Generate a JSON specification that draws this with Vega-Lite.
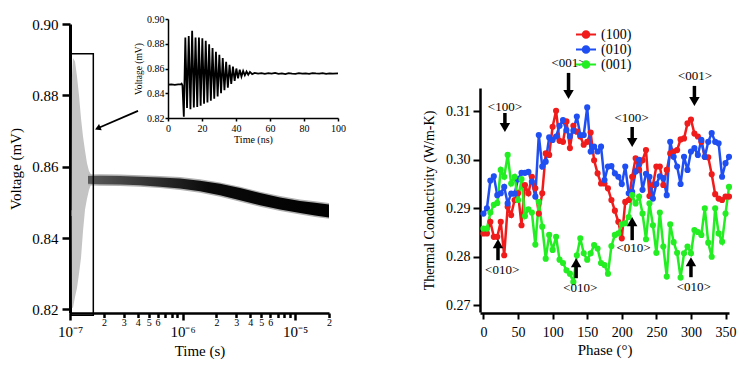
{
  "$schema": "https://vega.github.io/schema/vega-lite/v6.json",
  "autosize": "none",
  "padding": {"left": 70, "top": 24, "right": 678, "bottom": 342},
  "bounds": "flush",
  "spacing": 151,
  "config": {
    "font": "Liberation Serif",
    "view": {"stroke": null},
    "axis": {"grid": false, "labelColor": "black", "titleColor": "black", "domainColor": "black", "tickColor": "black", "titleFontWeight": "normal", "labelFont": "Liberation Serif", "titleFont": "Liberation Serif", "labelOverlap": false},
    "text": {"font": "Liberation Serif"}
  },
  "datasets": {
    "burst": [
      {"t": 1.0e-7, "hi": 0.8478, "lo": 0.8462},
      {"t": 1.03e-7, "hi": 0.8478, "lo": 0.8462},
      {"t": 1.04e-7, "hi": 0.885, "lo": 0.8205},
      {"t": 1.063e-7, "hi": 0.8905, "lo": 0.8205},
      {"t": 1.108e-7, "hi": 0.8895, "lo": 0.8235},
      {"t": 1.154e-7, "hi": 0.8853, "lo": 0.826},
      {"t": 1.202e-7, "hi": 0.880, "lo": 0.830},
      {"t": 1.253e-7, "hi": 0.8735, "lo": 0.8345},
      {"t": 1.305e-7, "hi": 0.8685, "lo": 0.842},
      {"t": 1.36e-7, "hi": 0.8645, "lo": 0.848},
      {"t": 1.416e-7, "hi": 0.861, "lo": 0.851},
      {"t": 1.475e-7, "hi": 0.8588, "lo": 0.8535},
      {"t": 1.537e-7, "hi": 0.8578, "lo": 0.855},
      {"t": 1.6e-7, "hi": 0.8575, "lo": 0.8552}
    ],
    "band": [
      {"t": 1.445e-7, "hi": 0.8574, "lo": 0.8552, "fhi": 0.8578, "flo": 0.8548},
      {"t": 1.848e-7, "hi": 0.8575, "lo": 0.8551, "fhi": 0.8579, "flo": 0.8547},
      {"t": 2.783e-7, "hi": 0.8574, "lo": 0.8550, "fhi": 0.8578, "flo": 0.8546},
      {"t": 4.19e-7, "hi": 0.8572, "lo": 0.8548, "fhi": 0.8576, "flo": 0.8544},
      {"t": 6.31e-7, "hi": 0.8570, "lo": 0.8544, "fhi": 0.8574, "flo": 0.8540},
      {"t": 9.5e-7, "hi": 0.8567, "lo": 0.8539, "fhi": 0.8571, "flo": 0.8535},
      {"t": 1.43e-6, "hi": 0.8561, "lo": 0.8531, "fhi": 0.8565, "flo": 0.8527},
      {"t": 2.154e-6, "hi": 0.8552, "lo": 0.8520, "fhi": 0.8556, "flo": 0.8516},
      {"t": 3.244e-6, "hi": 0.8540, "lo": 0.8506, "fhi": 0.8544, "flo": 0.8502},
      {"t": 4.885e-6, "hi": 0.8526, "lo": 0.8492, "fhi": 0.8530, "flo": 0.8488},
      {"t": 7.356e-6, "hi": 0.8514, "lo": 0.8480, "fhi": 0.8518, "flo": 0.8476},
      {"t": 1.108e-5, "hi": 0.8504, "lo": 0.8470, "fhi": 0.8508, "flo": 0.8466},
      {"t": 1.506e-5, "hi": 0.8499, "lo": 0.8463, "fhi": 0.8503, "flo": 0.8459},
      {"t": 2.0e-5, "hi": 0.8494, "lo": 0.8458, "fhi": 0.8498, "flo": 0.8454}
    ],
    "box": [{"t": 1.0145e-7, "t2": 1.611e-7, "v": 0.89166, "v2": 0.8184}],
    "zoomarrow": [{"t": 4.021e-7, "v": 0.87566, "t2": 1.763e-7, "v2": 0.87078}],
    "inset": [
      {"ns": 0, "v": 0.8470}, {"ns": 2, "v": 0.8472}, {"ns": 4, "v": 0.8468}, {"ns": 6, "v": 0.8471},
      {"ns": 7.5, "v": 0.8472}, {"ns": 8, "v": 0.8478}, {"ns": 8.5, "v": 0.8465}, {"ns": 9.3, "v": 0.8210},
      {"ns": 10.2, "v": 0.8850}, {"ns": 11.2, "v": 0.8280}, {"ns": 12.2, "v": 0.8862}, {"ns": 13.2, "v": 0.8270},
      {"ns": 14.2, "v": 0.8905}, {"ns": 15.2, "v": 0.8285}, {"ns": 16.2, "v": 0.8850}, {"ns": 17.2, "v": 0.8290},
      {"ns": 18.2, "v": 0.8850}, {"ns": 19.2, "v": 0.8300}, {"ns": 20.2, "v": 0.8845}, {"ns": 21.2, "v": 0.8315},
      {"ns": 22.2, "v": 0.8825}, {"ns": 23.2, "v": 0.8325}, {"ns": 24.2, "v": 0.8795}, {"ns": 25.2, "v": 0.8340},
      {"ns": 26.2, "v": 0.8765}, {"ns": 27.2, "v": 0.8355}, {"ns": 28.2, "v": 0.8735}, {"ns": 29.2, "v": 0.8375},
      {"ns": 30.2, "v": 0.8710}, {"ns": 31.2, "v": 0.8400}, {"ns": 32.2, "v": 0.8685}, {"ns": 33.2, "v": 0.8425},
      {"ns": 34.2, "v": 0.8655}, {"ns": 35.2, "v": 0.8445}, {"ns": 36.2, "v": 0.8630}, {"ns": 37.2, "v": 0.8475},
      {"ns": 38.2, "v": 0.8615}, {"ns": 39.2, "v": 0.8500}, {"ns": 40.2, "v": 0.8600}, {"ns": 41.2, "v": 0.8520},
      {"ns": 42.2, "v": 0.8590}, {"ns": 43.2, "v": 0.8535}, {"ns": 44.2, "v": 0.8580}, {"ns": 45.2, "v": 0.8545},
      {"ns": 46.2, "v": 0.8575}, {"ns": 47.2, "v": 0.8550}, {"ns": 48.2, "v": 0.8572}, {"ns": 49.5, "v": 0.8555},
      {"ns": 51, "v": 0.8565}, {"ns": 53, "v": 0.8558}, {"ns": 55, "v": 0.8563}, {"ns": 57, "v": 0.8556},
      {"ns": 59, "v": 0.8562}, {"ns": 61, "v": 0.8558}, {"ns": 63, "v": 0.8564}, {"ns": 65, "v": 0.8557},
      {"ns": 67, "v": 0.8561}, {"ns": 69, "v": 0.8555}, {"ns": 71, "v": 0.8562}, {"ns": 73, "v": 0.8559},
      {"ns": 75, "v": 0.8557}, {"ns": 77, "v": 0.8562}, {"ns": 79, "v": 0.8558}, {"ns": 81, "v": 0.8561},
      {"ns": 83, "v": 0.8556}, {"ns": 85, "v": 0.8563}, {"ns": 87, "v": 0.8560}, {"ns": 89, "v": 0.8558},
      {"ns": 91, "v": 0.8562}, {"ns": 93, "v": 0.8557}, {"ns": 95, "v": 0.8561}, {"ns": 97, "v": 0.8558},
      {"ns": 100, "v": 0.8560}
    ],
    "tc": [
      {"p":0,"s":"(100)","k":0.2848},{"p":5,"s":"(100)","k":0.2848},{"p":10,"s":"(100)","k":0.2872},{"p":15,"s":"(100)","k":0.2841},{"p":20,"s":"(100)","k":0.2841},{"p":25,"s":"(100)","k":0.2872},{"p":30,"s":"(100)","k":0.2803},{"p":35,"s":"(100)","k":0.2903},{"p":40,"s":"(100)","k":0.2886},{"p":45,"s":"(100)","k":0.2917},{"p":50,"s":"(100)","k":0.2931},{"p":55,"s":"(100)","k":0.2865},{"p":60,"s":"(100)","k":0.2948},{"p":65,"s":"(100)","k":0.2931},{"p":70,"s":"(100)","k":0.2965},{"p":75,"s":"(100)","k":0.2941},{"p":80,"s":"(100)","k":0.2889},{"p":85,"s":"(100)","k":0.2931},{"p":90,"s":"(100)","k":0.3013},{"p":95,"s":"(100)","k":0.3010},{"p":100,"s":"(100)","k":0.3068},{"p":105,"s":"(100)","k":0.3101},{"p":110,"s":"(100)","k":0.3039},{"p":115,"s":"(100)","k":0.3037},{"p":120,"s":"(100)","k":0.3079},{"p":125,"s":"(100)","k":0.3024},{"p":130,"s":"(100)","k":0.3070},{"p":135,"s":"(100)","k":0.3058},{"p":140,"s":"(100)","k":0.3048},{"p":145,"s":"(100)","k":0.3031},{"p":150,"s":"(100)","k":0.3037},{"p":155,"s":"(100)","k":0.3056},{"p":160,"s":"(100)","k":0.2999},{"p":165,"s":"(100)","k":0.2972},{"p":170,"s":"(100)","k":0.2951},{"p":175,"s":"(100)","k":0.2951},{"p":180,"s":"(100)","k":0.2941},{"p":185,"s":"(100)","k":0.2917},{"p":190,"s":"(100)","k":0.2895},{"p":195,"s":"(100)","k":0.2872},{"p":200,"s":"(100)","k":0.2838},{"p":205,"s":"(100)","k":0.2913},{"p":210,"s":"(100)","k":0.2917},{"p":215,"s":"(100)","k":0.2965},{"p":220,"s":"(100)","k":0.3003},{"p":225,"s":"(100)","k":0.2979},{"p":230,"s":"(100)","k":0.2999},{"p":235,"s":"(100)","k":0.3020},{"p":240,"s":"(100)","k":0.2925},{"p":245,"s":"(100)","k":0.2948},{"p":250,"s":"(100)","k":0.2986},{"p":255,"s":"(100)","k":0.2986},{"p":260,"s":"(100)","k":0.2948},{"p":265,"s":"(100)","k":0.2979},{"p":270,"s":"(100)","k":0.3013},{"p":275,"s":"(100)","k":0.3017},{"p":280,"s":"(100)","k":0.3020},{"p":285,"s":"(100)","k":0.3042},{"p":290,"s":"(100)","k":0.3044},{"p":295,"s":"(100)","k":0.3075},{"p":300,"s":"(100)","k":0.3083},{"p":305,"s":"(100)","k":0.3054},{"p":310,"s":"(100)","k":0.3048},{"p":315,"s":"(100)","k":0.3037},{"p":320,"s":"(100)","k":0.3006},{"p":325,"s":"(100)","k":0.3005},{"p":330,"s":"(100)","k":0.2970},{"p":335,"s":"(100)","k":0.2929},{"p":340,"s":"(100)","k":0.2920},{"p":345,"s":"(100)","k":0.2917},{"p":350,"s":"(100)","k":0.2924},{"p":355,"s":"(100)","k":0.2924},
      {"p":0,"s":"(010)","k":0.2889},{"p":5,"s":"(010)","k":0.2900},{"p":10,"s":"(010)","k":0.2957},{"p":15,"s":"(010)","k":0.2966},{"p":20,"s":"(010)","k":0.2927},{"p":25,"s":"(010)","k":0.2931},{"p":30,"s":"(010)","k":0.2944},{"p":35,"s":"(010)","k":0.2910},{"p":40,"s":"(010)","k":0.2930},{"p":45,"s":"(010)","k":0.2930},{"p":50,"s":"(010)","k":0.2960},{"p":55,"s":"(010)","k":0.2973},{"p":60,"s":"(010)","k":0.2973},{"p":65,"s":"(010)","k":0.2975},{"p":70,"s":"(010)","k":0.2955},{"p":75,"s":"(010)","k":0.2924},{"p":80,"s":"(010)","k":0.3051},{"p":85,"s":"(010)","k":0.2986},{"p":90,"s":"(010)","k":0.2996},{"p":95,"s":"(010)","k":0.3046},{"p":100,"s":"(010)","k":0.3041},{"p":105,"s":"(010)","k":0.3048},{"p":110,"s":"(010)","k":0.3070},{"p":115,"s":"(010)","k":0.3082},{"p":120,"s":"(010)","k":0.3061},{"p":125,"s":"(010)","k":0.3048},{"p":130,"s":"(010)","k":0.3060},{"p":135,"s":"(010)","k":0.3089},{"p":140,"s":"(010)","k":0.3051},{"p":145,"s":"(010)","k":0.3051},{"p":150,"s":"(010)","k":0.3108},{"p":155,"s":"(010)","k":0.3017},{"p":160,"s":"(010)","k":0.3027},{"p":165,"s":"(010)","k":0.3017},{"p":170,"s":"(010)","k":0.3027},{"p":175,"s":"(010)","k":0.2958},{"p":180,"s":"(010)","k":0.2986},{"p":185,"s":"(010)","k":0.2987},{"p":190,"s":"(010)","k":0.2972},{"p":195,"s":"(010)","k":0.2965},{"p":200,"s":"(010)","k":0.2950},{"p":205,"s":"(010)","k":0.2986},{"p":210,"s":"(010)","k":0.2931},{"p":215,"s":"(010)","k":0.2934},{"p":220,"s":"(010)","k":0.2976},{"p":225,"s":"(010)","k":0.3000},{"p":230,"s":"(010)","k":0.2938},{"p":235,"s":"(010)","k":0.2971},{"p":240,"s":"(010)","k":0.2965},{"p":245,"s":"(010)","k":0.2920},{"p":250,"s":"(010)","k":0.2950},{"p":255,"s":"(010)","k":0.2966},{"p":260,"s":"(010)","k":0.2962},{"p":265,"s":"(010)","k":0.2927},{"p":270,"s":"(010)","k":0.3037},{"p":275,"s":"(010)","k":0.3006},{"p":280,"s":"(010)","k":0.2986},{"p":285,"s":"(010)","k":0.2950},{"p":290,"s":"(010)","k":0.3006},{"p":295,"s":"(010)","k":0.2979},{"p":300,"s":"(010)","k":0.3017},{"p":305,"s":"(010)","k":0.3024},{"p":310,"s":"(010)","k":0.3010},{"p":315,"s":"(010)","k":0.3041},{"p":320,"s":"(010)","k":0.3006},{"p":325,"s":"(010)","k":0.3037},{"p":330,"s":"(010)","k":0.3055},{"p":335,"s":"(010)","k":0.3037},{"p":340,"s":"(010)","k":0.3034},{"p":345,"s":"(010)","k":0.2965},{"p":350,"s":"(010)","k":0.2993},{"p":355,"s":"(010)","k":0.3006},
      {"p":0,"s":"(001)","k":0.2858},{"p":5,"s":"(001)","k":0.2858},{"p":10,"s":"(001)","k":0.2891},{"p":15,"s":"(001)","k":0.2907},{"p":20,"s":"(001)","k":0.2911},{"p":25,"s":"(001)","k":0.2979},{"p":30,"s":"(001)","k":0.2965},{"p":35,"s":"(001)","k":0.3010},{"p":40,"s":"(001)","k":0.2951},{"p":45,"s":"(001)","k":0.2965},{"p":50,"s":"(001)","k":0.2917},{"p":55,"s":"(001)","k":0.2960},{"p":60,"s":"(001)","k":0.2884},{"p":65,"s":"(001)","k":0.2898},{"p":70,"s":"(001)","k":0.2891},{"p":75,"s":"(001)","k":0.2825},{"p":80,"s":"(001)","k":0.2913},{"p":85,"s":"(001)","k":0.2862},{"p":90,"s":"(001)","k":0.2796},{"p":95,"s":"(001)","k":0.2845},{"p":100,"s":"(001)","k":0.2814},{"p":105,"s":"(001)","k":0.2841},{"p":110,"s":"(001)","k":0.2794},{"p":115,"s":"(001)","k":0.2787},{"p":120,"s":"(001)","k":0.2772},{"p":125,"s":"(001)","k":0.2765},{"p":130,"s":"(001)","k":0.2748},{"p":135,"s":"(001)","k":0.2803},{"p":140,"s":"(001)","k":0.2838},{"p":145,"s":"(001)","k":0.2807},{"p":150,"s":"(001)","k":0.2794},{"p":155,"s":"(001)","k":0.2807},{"p":160,"s":"(001)","k":0.2824},{"p":165,"s":"(001)","k":0.2817},{"p":170,"s":"(001)","k":0.2787},{"p":175,"s":"(001)","k":0.2783},{"p":180,"s":"(001)","k":0.2765},{"p":185,"s":"(001)","k":0.2822},{"p":190,"s":"(001)","k":0.2845},{"p":195,"s":"(001)","k":0.2848},{"p":200,"s":"(001)","k":0.2867},{"p":205,"s":"(001)","k":0.2869},{"p":210,"s":"(001)","k":0.2882},{"p":215,"s":"(001)","k":0.2927},{"p":220,"s":"(001)","k":0.2910},{"p":225,"s":"(001)","k":0.2924},{"p":230,"s":"(001)","k":0.2889},{"p":235,"s":"(001)","k":0.2836},{"p":240,"s":"(001)","k":0.2910},{"p":245,"s":"(001)","k":0.2865},{"p":250,"s":"(001)","k":0.2808},{"p":255,"s":"(001)","k":0.2891},{"p":260,"s":"(001)","k":0.2821},{"p":265,"s":"(001)","k":0.2759},{"p":270,"s":"(001)","k":0.2867},{"p":275,"s":"(001)","k":0.2830},{"p":280,"s":"(001)","k":0.2808},{"p":285,"s":"(001)","k":0.2757},{"p":290,"s":"(001)","k":0.2807},{"p":295,"s":"(001)","k":0.2821},{"p":300,"s":"(001)","k":0.2807},{"p":305,"s":"(001)","k":0.2855},{"p":310,"s":"(001)","k":0.2851},{"p":315,"s":"(001)","k":0.2845},{"p":320,"s":"(001)","k":0.2900},{"p":325,"s":"(001)","k":0.2829},{"p":330,"s":"(001)","k":0.2800},{"p":335,"s":"(001)","k":0.2900},{"p":340,"s":"(001)","k":0.2848},{"p":345,"s":"(001)","k":0.2831},{"p":350,"s":"(001)","k":0.2889},{"p":355,"s":"(001)","k":0.2944}
    ],
    "arrows": [
      {"x": 31, "y": 0.30965, "y2": 0.30665, "d": "down"},
      {"x": 123, "y": 0.31791, "y2": 0.31347, "d": "down"},
      {"x": 215, "y": 0.30676, "y2": 0.30356, "d": "down"},
      {"x": 305, "y": 0.31523, "y2": 0.31202, "d": "down"},
      {"x": 21, "y": 0.27929, "y2": 0.28270, "d": "up"},
      {"x": 134, "y": 0.27557, "y2": 0.27877, "d": "up"},
      {"x": 215, "y": 0.28342, "y2": 0.28724, "d": "up"},
      {"x": 300, "y": 0.27578, "y2": 0.27898, "d": "up"}
    ],
    "labels": [
      {"x": 31, "y": 0.3109, "t": "<100>"},
      {"x": 123, "y": 0.3200, "t": "<001>"},
      {"x": 214, "y": 0.3087, "t": "<100>"},
      {"x": 306, "y": 0.3172, "t": "<001>"},
      {"x": 27, "y": 0.2772, "t": "<010>"},
      {"x": 140, "y": 0.2735, "t": "<010>"},
      {"x": 217, "y": 0.2817, "t": "<010>"},
      {"x": 304, "y": 0.2737, "t": "<010>"}
    ]
  },
  "hconcat": [
    {
      "width": 259,
      "height": 289,
      "resolve": {"scale": {"x": "independent", "y": "independent"}, "axis": {"x": "independent", "y": "independent"}},
      "layer": [
        {
          "data": {"name": "burst"},
          "mark": {"type": "area", "color": "#c4c4c4", "clip": false},
          "encoding": {
            "x": {"field": "t", "type": "quantitative",
              "scale": {"type": "log", "domain": [1e-7, 2e-5], "nice": false},
              "axis": {
                "orient": "bottom",
                "title": "Time (s)", "titleFontSize": 15, "titlePadding": 4,
                "values": [1e-7,2e-7,3e-7,4e-7,5e-7,6e-7,7e-7,8e-7,9e-7,1e-6,2e-6,3e-6,4e-6,5e-6,6e-6,7e-6,8e-6,9e-6,1e-5,2e-5],
                "labelExpr": "datum.value == 1e-7 ? '10⁻⁷' : datum.value == 1e-6 ? '10⁻⁶' : datum.value == 1e-5 ? '10⁻⁵' : (round(datum.value / pow(10, floor(log(datum.value) / LN10 + 1e-9))) <= 6 ? '' + round(datum.value / pow(10, floor(log(datum.value) / LN10 + 1e-9))) : '')",
                "tickSize": {"condition": {"test": "datum.value == 1e-7 || datum.value == 1e-6 || datum.value == 1e-5", "value": 7}, "value": 4.5},
                "tickWidth": 2.5,
                "labelFontSize": {"condition": {"test": "datum.value == 1e-7 || datum.value == 1e-6 || datum.value == 1e-5", "value": 15}, "value": 10},
                "labelPadding": {"condition": {"test": "datum.value == 1e-7 || datum.value == 1e-6 || datum.value == 1e-5", "value": 4}, "value": 0},
                "domainWidth": 2.5,
                "labelFlush": false, "labelOverlap": false, "labelBound": false
              }
            },
            "y": {"field": "hi", "type": "quantitative",
              "scale": {"domain": [0.819, 0.90], "nice": false, "zero": false},
              "axis": {"orient": "left", "title": "Voltage (mV)", "titleFontSize": 15, "titlePadding": 8, "values": [0.82, 0.84, 0.86, 0.88, 0.90], "format": ".2f", "labelFontSize": 15, "tickSize": 8, "tickWidth": 2.5, "domainWidth": 3, "labelPadding": 4}
            },
            "y2": {"field": "lo"}
          }
        },
        {
          "data": {"name": "band"},
          "mark": {"type": "area", "color": "#b0b0b0", "clip": false},
          "encoding": {
            "x": {"field": "t", "type": "quantitative", "axis": null, "scale": {"type": "log", "domain": [1e-7, 2e-5], "nice": false}},
            "y": {"field": "fhi", "type": "quantitative", "axis": null, "scale": {"domain": [0.819, 0.90], "nice": false, "zero": false}},
            "y2": {"field": "flo"}
          }
        },
        {
          "data": {"name": "band"},
          "mark": {"type": "area", "clip": false, "color": {"gradient": "linear", "x1": 0, "x2": 1, "y1": 0, "y2": 0, "stops": [{"offset": 0, "color": "#5a5a5a"}, {"offset": 0.25, "color": "#333333"}, {"offset": 0.5, "color": "#0a0a0a"}, {"offset": 1, "color": "#000000"}]}},
          "encoding": {
            "x": {"field": "t", "type": "quantitative", "axis": null, "scale": {"type": "log", "domain": [1e-7, 2e-5], "nice": false}},
            "y": {"field": "hi", "type": "quantitative", "axis": null, "scale": {"domain": [0.819, 0.90], "nice": false, "zero": false}},
            "y2": {"field": "lo"}
          }
        },
        {
          "data": {"name": "box"},
          "mark": {"type": "rect", "fillOpacity": 0, "stroke": "black", "strokeWidth": 1.5, "clip": false},
          "encoding": {
            "x": {"field": "t", "type": "quantitative", "axis": null, "scale": {"type": "log", "domain": [1e-7, 2e-5], "nice": false}},
            "x2": {"field": "t2"},
            "y": {"field": "v", "type": "quantitative", "axis": null, "scale": {"domain": [0.819, 0.90], "nice": false, "zero": false}},
            "y2": {"field": "v2"}
          }
        },
        {
          "data": {"name": "zoomarrow"},
          "mark": {"type": "rule", "color": "black", "strokeWidth": 1.8, "clip": false},
          "encoding": {
            "x": {"field": "t", "type": "quantitative", "axis": null, "scale": {"type": "log", "domain": [1e-7, 2e-5], "nice": false}},
            "x2": {"field": "t2"},
            "y": {"field": "v", "type": "quantitative", "axis": null, "scale": {"domain": [0.819, 0.90], "nice": false, "zero": false}},
            "y2": {"field": "v2"}
          }
        },
        {
          "data": {"name": "zoomarrow"},
          "mark": {"type": "point", "shape": "triangle-up", "angle": 246.6, "size": 45, "filled": true, "color": "black", "opacity": 1, "clip": false},
          "encoding": {
            "x": {"field": "t2", "type": "quantitative", "axis": null, "scale": {"type": "log", "domain": [1e-7, 2e-5], "nice": false}},
            "y": {"field": "v2", "type": "quantitative", "axis": null, "scale": {"domain": [0.819, 0.90], "nice": false, "zero": false}}
          }
        },
        {
          "data": {"name": "inset"},
          "mark": {"type": "line", "color": "black", "strokeWidth": 1.8, "clip": false},
          "encoding": {
            "x": {"field": "ns", "type": "quantitative",
              "scale": {"domain": [0, 100], "range": [98, 268], "nice": false},
              "axis": {"orient": "bottom", "offset": -195, "values": [0, 20, 40, 60, 80, 100], "labelFontSize": 10, "tickSize": 3, "tickWidth": 1.5, "domainWidth": 1.5, "labelPadding": 2, "title": "Time (ns)", "titleFontSize": 10, "titlePadding": 1, "labelFlush": false}
            },
            "y": {"field": "v", "type": "quantitative",
              "scale": {"domain": [0.82, 0.90], "range": [94, -5], "nice": false, "zero": false},
              "axis": {"orient": "left", "offset": -98, "values": [0.82, 0.84, 0.86, 0.88, 0.90], "format": ".2f", "labelFontSize": 10, "tickSize": 3, "tickWidth": 1.5, "domainWidth": 1.5, "labelPadding": 1, "title": "Voltage (mV)", "titleFontSize": 9.5, "titlePadding": 3}
            }
          }
        }
      ]
    },
    {
      "width": 249,
      "height": 289,
      "resolve": {"scale": {"x": "independent", "y": "independent"}, "axis": {"x": "independent", "y": "independent"}},
      "layer": [
        {
          "data": {"name": "tc"},
          "mark": {"type": "line", "strokeWidth": 2.5, "point": {"filled": true, "size": 38, "opacity": 1}},
          "encoding": {
            "x": {"field": "p", "type": "quantitative",
              "scale": {"domain": [-5, 355], "nice": false},
              "axis": {"orient": "bottom", "title": "Phase (°)", "titleFontSize": 15, "titlePadding": 3, "values": [0, 50, 100, 150, 200, 250, 300, 350], "labelFontSize": 14, "tickSize": 6, "tickWidth": 2, "domainWidth": 2.5, "labelPadding": 6, "labelFlush": false, "labelOverlap": false}
            },
            "y": {"field": "k", "type": "quantitative",
              "scale": {"domain": [0.2686, 0.3148], "range": [288, 64], "nice": false, "zero": false},
              "axis": {"orient": "left", "title": "Thermal Conductivity (W/m-K)", "titleFontSize": 14, "titlePadding": 9, "values": [0.27, 0.28, 0.29, 0.30, 0.31], "format": ".2f", "labelFontSize": 14, "tickSize": 7, "tickWidth": 2, "domainWidth": 2.5, "labelPadding": 3}
            },
            "color": {"field": "s", "type": "nominal", "sort": null,
              "scale": {"domain": ["(100)", "(010)", "(001)"], "range": ["#f01c1c", "#1f4ff2", "#22ee22"]},
              "legend": {"orient": "none", "legendX": 505, "legendY": 3, "title": null, "padding": 0,
                "symbolType": "M-1,0H1M0.33,0A0.33,0.33,0,1,1,-0.33,0A0.33,0.33,0,1,1,0.33,0Z",
                "symbolSize": 400, "symbolStrokeWidth": 2, "labelFontSize": 14, "labelFont": "Liberation Serif", "labelColor": "black",
                "clipHeight": 15, "rowPadding": 0, "labelOffset": 4,
                "encode": {"symbols": {"update": {"fill": {"scale": "color", "field": "value"}, "fillOpacity": {"value": 1}, "opacity": {"value": 1}}}}
              }
            }
          }
        },
        {
          "data": {"name": "arrows"},
          "mark": {"type": "rule", "color": "black", "strokeWidth": 3.5, "clip": false},
          "encoding": {
            "x": {"field": "x", "type": "quantitative", "axis": null, "scale": {"domain": [-5, 355], "nice": false}},
            "y": {"field": "y", "type": "quantitative", "axis": null, "scale": {"domain": [0.2686, 0.3148], "range": [288, 64], "nice": false, "zero": false}},
            "y2": {"field": "y2"}
          }
        },
        {
          "data": {"name": "arrows"},
          "mark": {"type": "point", "filled": true, "color": "black", "size": 110, "opacity": 1, "clip": false},
          "encoding": {
            "x": {"field": "x", "type": "quantitative", "axis": null, "scale": {"domain": [-5, 355], "nice": false}},
            "y": {"field": "y2", "type": "quantitative", "axis": null, "scale": {"domain": [0.2686, 0.3148], "range": [288, 64], "nice": false, "zero": false}},
            "shape": {"field": "d", "type": "nominal", "scale": {"domain": ["down", "up"], "range": ["triangle-down", "triangle-up"]}, "legend": null}
          }
        },
        {
          "data": {"name": "labels"},
          "mark": {"type": "text", "fontSize": 13, "color": "black", "baseline": "middle", "align": "center", "clip": false},
          "encoding": {
            "x": {"field": "x", "type": "quantitative", "axis": null, "scale": {"domain": [-5, 355], "nice": false}},
            "y": {"field": "y", "type": "quantitative", "axis": null, "scale": {"domain": [0.2686, 0.3148], "range": [288, 64], "nice": false, "zero": false}},
            "text": {"field": "t"}
          }
        }
      ]
    }
  ]
}
